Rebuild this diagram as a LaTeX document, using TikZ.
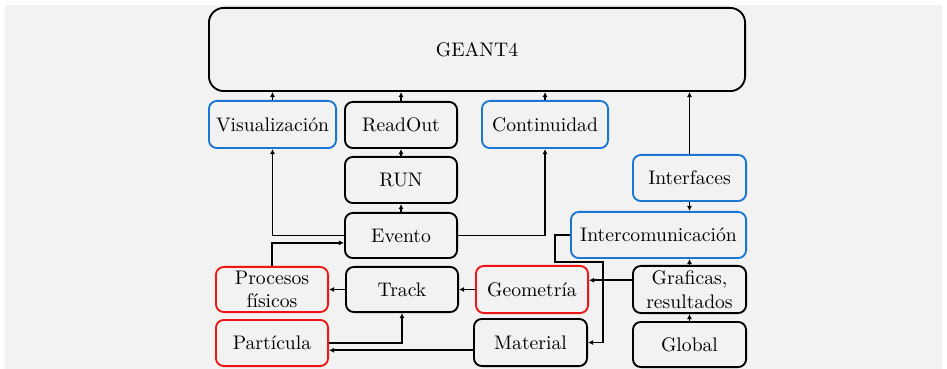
\documentclass[tikz,border=0pt]{standalone}
\usetikzlibrary{arrows.meta,calc}
\definecolor{bggray}{HTML}{F2F2F2}
\definecolor{boxblue}{RGB}{25,118,210}
\definecolor{boxred}{RGB}{240,20,20}
\tikzset{
  box/.style={draw=black, line width=1pt, rounded corners=4.3pt, inner sep=0pt, align=center, font=\fontsize{10.6}{12.8}\selectfont, text=black},
  bluebox/.style={box, draw=boxblue},
  redbox/.style={box, draw=boxred},
  conn/.style={line width=1pt, -{Latex[length=2.8pt,width=2.8pt]}},
  wh/.style 2 args={minimum width=#1*0.54pt-1pt, minimum height=#2*0.54pt-1pt}
}
\begin{document}
\begin{tikzpicture}[x=0.54pt,y=-0.54pt]
\useasboundingbox (0,0) rectangle (947,369);
\fill[bggray] (5,5) rectangle (942,369);
% nodes
\node[box, rounded corners=8pt, wh={538}{85}] (geant) at (477,49.5) {GEANT4};
\node[bluebox, wh={129}{49}] (vis) at (272.5,124.5) {Visualización};
\node[box, wh={114}{48}] (readout) at (401,125) {ReadOut};
\node[bluebox, wh={128}{49}] (cont) at (545,124.5) {Continuidad};
\node[box, wh={114}{48}] (run) at (401,180) {RUN};
\node[box, wh={114}{47}] (evento) at (401,235.5) {Evento};
\node[bluebox, wh={115}{48}] (interf) at (689.5,178) {Interfaces};
\node[bluebox, wh={177}{48}] (intercom) at (658.5,235) {Intercomunicación};
\node[redbox, wh={114}{47}] (procesos) at (272,289.5) {Procesos\\físicos};
\node[box, wh={114}{47}] (track) at (402,289.5) {Track};
\node[redbox, wh={114}{49}] (geom) at (532,289.5) {Geometría};
\node[box, wh={115}{49}] (graf) at (689.5,289.5) {Graficas,\\resultados};
\node[redbox, wh={114}{48}] (part) at (272,343) {Partícula};
\node[box, wh={115}{49}] (material) at (530.5,342.5) {Material};
\node[box, wh={115}{47}] (global) at (689.5,344.5) {Global};
\coordinate (c1) at (555,262);
\coordinate (c2) at (603,262);
% connectors
\draw[conn] (vis.north) -- (vis.north |- geant.south);
\draw[conn] (readout.north) -- (readout.north |- geant.south);
\draw[conn] (cont.north) -- (cont.north |- geant.south);
\draw[conn] (interf.north) -- (interf.north |- geant.south);
\draw[conn] (run.north) -- (run.north |- readout.south);
\draw[conn] (evento.north) -- (evento.north |- run.south);
\draw[conn] (evento.west) -| (vis.south);
\draw[conn] (evento.east) -| (cont.south);
\draw[conn] (procesos.north) |- ([yshift=-4pt]evento.west);
\draw[conn] (track.west) -- (procesos.east);
\draw[conn] (geom.west) -- (track.east);
\draw[conn] (part.east) -| (track.south);
\draw[conn] ([yshift=-4.2pt]material.west) -- ([yshift=-4.2pt]material.west -| part.east);
\draw[conn] (intercom.west) -| (c1) -- (c2) |- (material.east);
\draw[conn] ([yshift=5pt]graf.west) -- ([yshift=5pt]graf.west -| geom.east);
\draw[conn] (graf.north) -- (graf.north |- intercom.south);
\draw[conn] (interf.south) -- (interf.south |- intercom.north);
\draw[conn] (global.north) -- (global.north |- graf.south);
\end{tikzpicture}
\end{document}
